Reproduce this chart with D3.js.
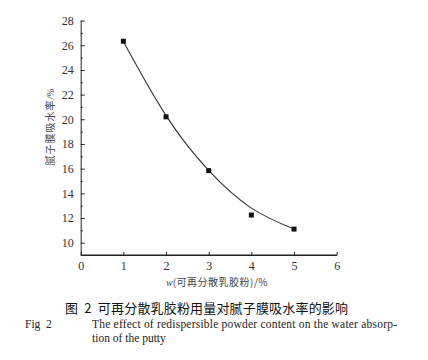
<!DOCTYPE html>
<html><head><meta charset="utf-8">
<script src="https://cdn.jsdelivr.net/npm/d3@7"></script>
<style>body{margin:0;background:#fff}svg{display:block}text{white-space:pre}</style>
</head><body>
<script>
// Data
const xValues = [1, 2, 3, 4, 5];
const absorption = [26.33, 20.2, 15.84, 12.24, 11.1];
const fitValues = [26.3, 20.3, 15.85, 12.8, 11.1];
const xTicks = [0, 1, 2, 3, 4, 5, 6];
const yTicks = [10, 12, 14, 16, 18, 20, 22, 24, 26, 28];
const yMinor = d3.range(9, 29, 1);
const yLabel = "腻子膜吸水率";
const xLabel = "(可再分散乳胶粉)/%";
const captionCN = "图  2  可再分散乳胶粉用量对腻子膜吸水率的影响";
const captionFig = "Fig  2";
const captionEN1 = "The effect of redispersible powder content on the water absorp-";
const captionEN2 = "tion of the putty";

const W = 428, H = 360;
const svg = d3.select("body").append("svg").attr("width", W).attr("height", H);
const x = d3.scaleLinear().domain([0, 6]).range([80.7, 336.7]);
const y = d3.scaleLinear().domain([9, 28.05]).range([255, 20]);
const ink = "#222";
const serif = "'Liberation Serif','DejaVu Serif',serif";
const cjk = "'Noto Sans CJK SC',sans-serif";

// axes
const gx = svg.append("g").attr("transform", `translate(0,${y(9)})`)
  .call(d3.axisBottom(x).tickValues(xTicks).tickFormat(d3.format("d")).tickSizeInner(-3).tickSizeOuter(0).tickPadding(6));
const gy = svg.append("g").attr("transform", `translate(${x(0)},0)`)
  .call(d3.axisLeft(y).tickValues(yTicks).tickFormat(d3.format("d")).tickSizeInner(-4).tickSizeOuter(0).tickPadding(7));
svg.append("g").attr("transform", `translate(${x(0)},0)`)
  .call(d3.axisLeft(y).tickValues(yMinor.filter(v => !yTicks.includes(v) && v > 9)).tickSize(-2).tickFormat(""))
  .call(g => g.selectAll("line").attr("stroke", ink))
  .select(".domain").remove();
[gx, gy].forEach(g => {
  g.selectAll("path,line").attr("stroke", ink).attr("stroke-width", 1);
  g.selectAll("text").attr("font-family", serif).attr("font-size", 12).attr("fill", "#333");
});
svg.append("line").attr("x1", x(0)).attr("x2", x(6)).attr("y1", y(9)).attr("y2", y(9)).attr("stroke", ink);

// fitted curve
const line = d3.line().x((d, i) => x(xValues[i])).y(d => y(d)).curve(d3.curveNatural);
svg.append("path").datum(fitValues).attr("d", line).attr("fill", "none").attr("stroke", "#333").attr("stroke-width", 1.1);

// points
svg.selectAll("rect.pt").data(absorption).join("rect").attr("class", "pt")
  .attr("x", (d, i) => x(xValues[i]) - 2.5).attr("y", d => y(d) - 2.5)
  .attr("width", 5).attr("height", 5).attr("fill", "#111");

// y label
const yl = svg.append("text").attr("transform", `translate(54,127) rotate(-90)`)
  .attr("text-anchor", "middle").attr("fill", "#444").attr("font-family", cjk).attr("font-size", 10);
yl.append("tspan").text(yLabel).attr("letter-spacing", 1);
yl.append("tspan").text("/%").attr("font-family", serif).attr("font-style", "italic").attr("font-size", 10);

// x label
const xl = svg.append("text").attr("x", 217).attr("y", 286).attr("text-anchor", "middle")
  .attr("fill", "#444").attr("font-family", cjk).attr("font-size", 10);
xl.append("tspan").text("w").attr("font-family", serif).attr("font-style", "italic");
xl.append("tspan").text(xLabel).attr("letter-spacing", 0.5);

// captions
svg.append("text").attr("x", 65).attr("y", 313).attr("font-family", cjk).attr("font-size", 13)
  .attr("fill", "#111").attr("textLength", 283).text(captionCN);
svg.append("text").attr("x", 25).attr("y", 328).attr("font-family", serif).attr("font-size", 11.5)
  .attr("fill", "#222").text(captionFig);
svg.append("text").attr("x", 92).attr("y", 328).attr("font-family", serif).attr("font-size", 11.5)
  .attr("fill", "#222").attr("textLength", 305).text(captionEN1);
svg.append("text").attr("x", 92).attr("y", 342).attr("font-family", serif).attr("font-size", 11.5)
  .attr("fill", "#222").text(captionEN2);
</script>
</body></html>
